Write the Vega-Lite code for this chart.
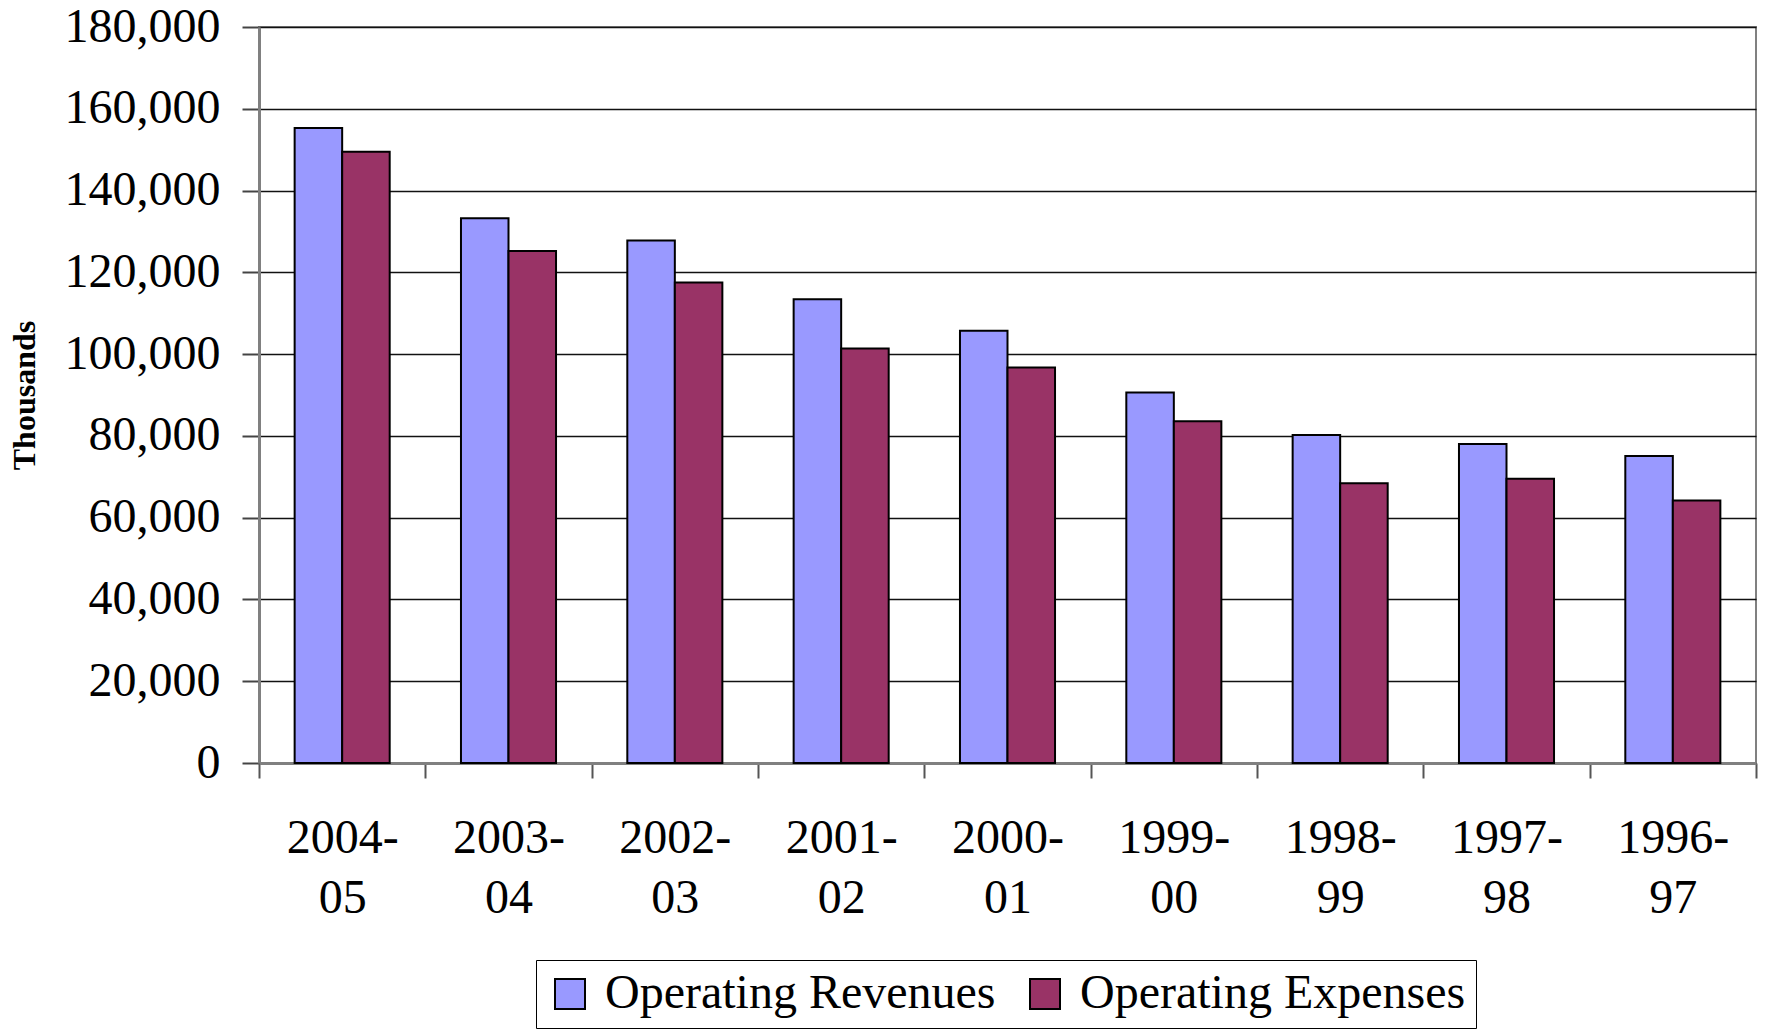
{
  "$schema": "https://vega.github.io/schema/vega-lite/v6.json",
  "autosize": {"type": "none"},
  "width": 1497,
  "height": 736,
  "padding": {"left": 259, "top": 27, "right": 9, "bottom": 269},
  "background": "white",
  "config": {
    "font": "Liberation Serif",
    "view": {"stroke": "#808080", "strokeWidth": 2}
  },
  "data": {
    "values": [
      {"year": "2004-05", "series": "Operating Revenues", "value": 155300},
      {"year": "2004-05", "series": "Operating Expenses", "value": 149500},
      {"year": "2003-04", "series": "Operating Revenues", "value": 133200},
      {"year": "2003-04", "series": "Operating Expenses", "value": 125200},
      {"year": "2002-03", "series": "Operating Revenues", "value": 127800},
      {"year": "2002-03", "series": "Operating Expenses", "value": 117500},
      {"year": "2001-02", "series": "Operating Revenues", "value": 113400},
      {"year": "2001-02", "series": "Operating Expenses", "value": 101400},
      {"year": "2000-01", "series": "Operating Revenues", "value": 105700},
      {"year": "2000-01", "series": "Operating Expenses", "value": 96700},
      {"year": "1999-00", "series": "Operating Revenues", "value": 90600},
      {"year": "1999-00", "series": "Operating Expenses", "value": 83600},
      {"year": "1998-99", "series": "Operating Revenues", "value": 80200},
      {"year": "1998-99", "series": "Operating Expenses", "value": 68400},
      {"year": "1997-98", "series": "Operating Revenues", "value": 78000},
      {"year": "1997-98", "series": "Operating Expenses", "value": 69500},
      {"year": "1996-97", "series": "Operating Revenues", "value": 75100},
      {"year": "1996-97", "series": "Operating Expenses", "value": 64200}
    ]
  },
  "mark": {"type": "bar", "stroke": "black", "strokeWidth": 2},
  "encoding": {
    "x": {
      "field": "year",
      "type": "nominal",
      "sort": null,
      "scale": {"paddingInner": 0, "paddingOuter": 0},
      "axis": {
        "title": null,
        "labelAngle": 0,
        "labelFont": "Liberation Serif",
        "labelFontSize": 48,
        "labelColor": "black",
        "labelExpr": "[slice(datum.label, 0, 5), slice(datum.label, 5)]",
        "labelLineHeight": 60,
        "labelPadding": 36,
        "labelBaseline": "top",
        "tickBand": "extent",
        "tickSize": 15,
        "tickColor": "#555",
        "tickWidth": 2,
        "domainColor": "#808080",
        "domainWidth": 3,
        "grid": false
      }
    },
    "xOffset": {
      "field": "series",
      "type": "nominal",
      "sort": ["Operating Revenues", "Operating Expenses"],
      "scale": {"paddingInner": 0, "paddingOuter": 0.75}
    },
    "y": {
      "field": "value",
      "type": "quantitative",
      "scale": {"domain": [0, 180000], "nice": false},
      "axis": {
        "values": [0, 20000, 40000, 60000, 80000, 100000, 120000, 140000, 160000, 180000],
        "format": ",d",
        "title": "Thousands",
        "titleFont": "Liberation Serif",
        "titleFontSize": 32,
        "titleFontWeight": "bold",
        "titleColor": "black",
        "titleX": -225,
        "titleY": 368,
        "titleAngle": -90,
        "titleBaseline": "alphabetic",
        "titleAlign": "center",
        "labelFont": "Liberation Serif",
        "labelFontSize": 48,
        "labelColor": "black",
        "labelPadding": 22,
        "tickSize": 17,
        "tickColor": "#444",
        "tickWidth": 2,
        "domainColor": "#808080",
        "domainWidth": 3,
        "grid": true,
        "gridColor": "#111",
        "gridWidth": 1.5
      }
    },
    "color": {
      "field": "series",
      "type": "nominal",
      "scale": {
        "domain": ["Operating Revenues", "Operating Expenses"],
        "range": ["#9999FF", "#993366"]
      },
      "legend": {
        "title": null,
        "orient": "none",
        "direction": "horizontal",
        "legendX": 277,
        "legendY": 933,
        "strokeColor": "black",
        "padding": 10,
        "fillColor": "white",
        "labelFont": "Liberation Serif",
        "labelFontSize": 48,
        "labelColor": "black",
        "labelLimit": 1000,
        "labelOffset": 11,
        "columnPadding": 25,
        "symbolType": "square",
        "symbolSize": 900,
        "symbolStrokeColor": "black",
        "symbolStrokeWidth": 2,
        "symbolOpacity": 1
      }
    }
  }
}
